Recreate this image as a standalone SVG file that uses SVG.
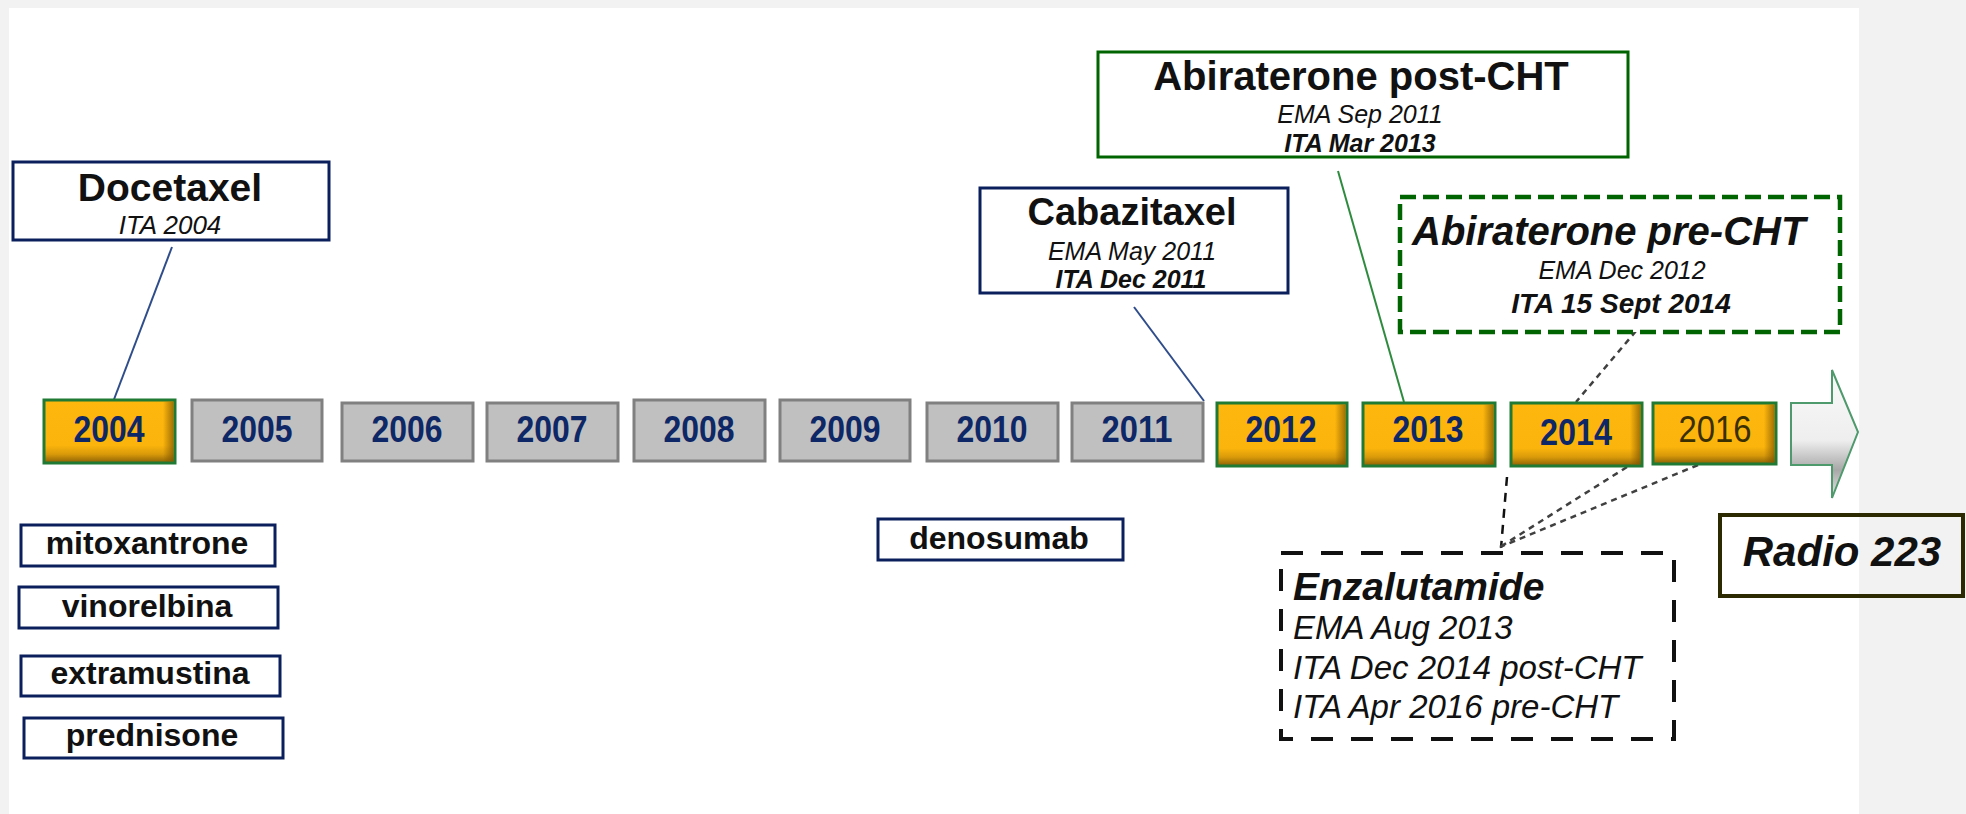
<svg xmlns="http://www.w3.org/2000/svg" width="1966" height="814" viewBox="0 0 1966 814">
<style>
  .t{font-family:"Liberation Sans",Arial,sans-serif;fill:#111}
  .b{font-weight:bold}
  .i{font-style:italic}
  .yr{font-family:"Liberation Sans",Arial,sans-serif;font-weight:bold;font-size:36px;fill:#0e2766;text-anchor:middle}
  .gray{fill:#c0c0c0;stroke:#808080;stroke-width:3}
  .orng{fill:url(#ov);stroke:#217a33;stroke-width:3}
  .navy{fill:#fff;stroke:#0a1f5c;stroke-width:3}
  .drug{font-family:"Liberation Sans",Arial,sans-serif;font-weight:bold;font-size:32px;fill:#111;text-anchor:middle}
  .mid{text-anchor:middle}
</style>
<defs>
  <linearGradient id="ov" x1="0" y1="0" x2="0" y2="1">
    <stop offset="0" stop-color="#FDB70D"/>
    <stop offset="0.72" stop-color="#FBB40C"/>
    <stop offset="0.86" stop-color="#D99A0A"/>
    <stop offset="1" stop-color="#8A6005"/>
  </linearGradient>
  <linearGradient id="oh" x1="0" y1="0" x2="1" y2="0">
    <stop offset="0" stop-color="#7a5200" stop-opacity="0"/>
    <stop offset="1" stop-color="#7a5200" stop-opacity="0.7"/>
  </linearGradient>
  <linearGradient id="ar" x1="0" y1="0" x2="0" y2="1">
    <stop offset="0" stop-color="#fafafa"/>
    <stop offset="0.55" stop-color="#eeeeee"/>
    <stop offset="0.78" stop-color="#a8a8a8"/>
    <stop offset="1" stop-color="#e8e8e8"/>
  </linearGradient>
</defs>
<rect x="0" y="0" width="1966" height="814" fill="#f2f2f2"/>
<rect x="9" y="8" width="1850" height="806" fill="#ffffff"/>

<g id="connectors" fill="none">
  <line x1="172" y1="247" x2="113" y2="402" stroke="#2f4d8a" stroke-width="2"/>
  <line x1="1134" y1="307" x2="1204" y2="401" stroke="#2f4d8a" stroke-width="2"/>
  <line x1="1338" y1="171" x2="1404" y2="402" stroke="#2e8b3e" stroke-width="2"/>
  <line x1="1636" y1="331" x2="1576" y2="402" stroke="#404040" stroke-width="2.5" stroke-dasharray="6 5"/>
  <line x1="1507" y1="477" x2="1501" y2="548" stroke="#111" stroke-width="2.5" stroke-dasharray="9 7"/>
  <line x1="1627" y1="467" x2="1500" y2="547" stroke="#404040" stroke-width="2.5" stroke-dasharray="6 5"/>
  <line x1="1698" y1="465" x2="1500" y2="547" stroke="#404040" stroke-width="2.5" stroke-dasharray="6 5"/>
</g>

<g id="y2004"><rect class="orng" x="44" y="400" width="131" height="63"/><rect x="163" y="401.5" width="10.5" height="60" fill="url(#oh)"/><text class="yr" x="109" y="442" textLength="71" lengthAdjust="spacingAndGlyphs">2004</text></g>
<g id="y2005"><rect class="gray" x="192" y="400" width="130" height="61"/><text class="yr" x="257" y="442" textLength="71" lengthAdjust="spacingAndGlyphs">2005</text></g>
<g id="y2006"><rect class="gray" x="342" y="403" width="131" height="58"/><text class="yr" x="407" y="442" textLength="71" lengthAdjust="spacingAndGlyphs">2006</text></g>
<g id="y2007"><rect class="gray" x="487" y="403" width="131" height="58"/><text class="yr" x="552" y="442" textLength="71" lengthAdjust="spacingAndGlyphs">2007</text></g>
<g id="y2008"><rect class="gray" x="634" y="400" width="131" height="61"/><text class="yr" x="699" y="442" textLength="71" lengthAdjust="spacingAndGlyphs">2008</text></g>
<g id="y2009"><rect class="gray" x="780" y="400" width="130" height="61"/><text class="yr" x="845" y="442" textLength="71" lengthAdjust="spacingAndGlyphs">2009</text></g>
<g id="y2010"><rect class="gray" x="927" y="403" width="131" height="58"/><text class="yr" x="992" y="442" textLength="71" lengthAdjust="spacingAndGlyphs">2010</text></g>
<g id="y2011"><rect class="gray" x="1072" y="403" width="131" height="58"/><text class="yr" x="1137" y="442" textLength="71" lengthAdjust="spacingAndGlyphs">2011</text></g>
<g id="y2012"><rect class="orng" x="1217" y="403" width="130" height="63"/><rect x="1335" y="404.5" width="10.5" height="60" fill="url(#oh)"/><text class="yr" x="1281" y="442" textLength="71" lengthAdjust="spacingAndGlyphs">2012</text></g>
<g id="y2013"><rect class="orng" x="1363" y="403" width="132" height="63"/><rect x="1483" y="404.5" width="10.5" height="60" fill="url(#oh)"/><text class="yr" x="1428" y="442" textLength="71" lengthAdjust="spacingAndGlyphs">2013</text></g>
<g id="y2014"><rect class="orng" x="1511" y="403" width="131" height="63"/><rect x="1630" y="404.5" width="10.5" height="60" fill="url(#oh)"/><text class="yr" x="1576" y="445" textLength="72" lengthAdjust="spacingAndGlyphs">2014</text></g>
<g id="y2016"><rect class="orng" x="1653" y="403" width="123" height="61"/><rect x="1764" y="404.5" width="10.5" height="58" fill="url(#oh)"/><text x="1715" y="442" text-anchor="middle" font-family="Liberation Sans, Arial, sans-serif" font-size="36" fill="#3a2f00" textLength="73" lengthAdjust="spacingAndGlyphs">2016</text></g>

<g id="arrow">
  <path d="M1791,403 H1832 V370 L1858,432 L1832,498 V465 H1791 Z" fill="url(#ar)" stroke="#4e9a6c" stroke-width="2"/>
</g>

<g id="docetaxel">
  <rect class="navy" x="13" y="162" width="316" height="78"/>
  <text class="t b mid" x="170" y="201" font-size="39">Docetaxel</text>
  <text class="t i mid" x="170" y="234" font-size="26">ITA 2004</text>
</g>

<g id="cabazitaxel">
  <rect class="navy" x="980" y="188" width="308" height="105"/>
  <text class="t b mid" x="1132" y="225" font-size="38">Cabazitaxel</text>
  <text class="t i mid" x="1132" y="260" font-size="25" fill="#333">EMA May 2011</text>
  <text class="t b i mid" x="1131" y="288" font-size="25">ITA Dec 2011</text>
</g>

<g id="abiraterone-post">
  <rect x="1098" y="52" width="530" height="105" fill="#fff" stroke="#006400" stroke-width="3"/>
  <text class="t b mid" x="1361" y="90" font-size="40">Abiraterone post-CHT</text>
  <text class="t i mid" x="1360" y="123" font-size="25" fill="#333">EMA Sep 2011</text>
  <text class="t b i mid" x="1360" y="152" font-size="25">ITA Mar 2013</text>
</g>

<g id="abiraterone-pre">
  <rect x="1400" y="197" width="440" height="135" fill="#fff" stroke="#006400" stroke-width="4.5" stroke-dasharray="16 7"/>
  <text class="t b i" x="1412" y="245" font-size="40">Abiraterone pre-CHT</text>
  <text class="t i mid" x="1622" y="279" font-size="25">EMA Dec 2012</text>
  <text class="t b i mid" x="1621" y="313" font-size="28">ITA 15 Sept 2014</text>
</g>

<g id="enzalutamide">
  <rect x="1281" y="553" width="393" height="186" fill="#fff" stroke="#111" stroke-width="4" stroke-dasharray="22 18"/>
  <text class="t b i" x="1293" y="600" font-size="39">Enzalutamide</text>
  <text class="t i" x="1293" y="639" font-size="33">EMA Aug 2013</text>
  <text class="t i" x="1293" y="679" font-size="33">ITA Dec 2014 post-CHT</text>
  <text class="t i" x="1293" y="718" font-size="33">ITA Apr 2016 pre-CHT</text>
</g>

<g id="radio223">
  <rect x="1720" y="515" width="243" height="81" fill="none" stroke="#2b2a00" stroke-width="4"/>
  <text class="t b i mid" x="1842" y="566" font-size="42" fill="#1a1a1a">Radio 223</text>
</g>

<g id="mitoxantrone"><rect class="navy" x="21" y="525" width="254" height="41"/><text class="drug" x="147" y="554">mitoxantrone</text></g>
<g id="vinorelbina"><rect class="navy" x="19" y="587" width="259" height="41"/><text class="drug" x="147" y="617">vinorelbina</text></g>
<g id="extramustina"><rect class="navy" x="21" y="656" width="259" height="40"/><text class="drug" x="150" y="684">extramustina</text></g>
<g id="prednisone"><rect class="navy" x="24" y="718" width="259" height="40"/><text class="drug" x="152" y="746">prednisone</text></g>
<g id="denosumab"><rect class="navy" x="878" y="519" width="245" height="41"/><text class="drug" x="999" y="549">denosumab</text></g>
</svg>
